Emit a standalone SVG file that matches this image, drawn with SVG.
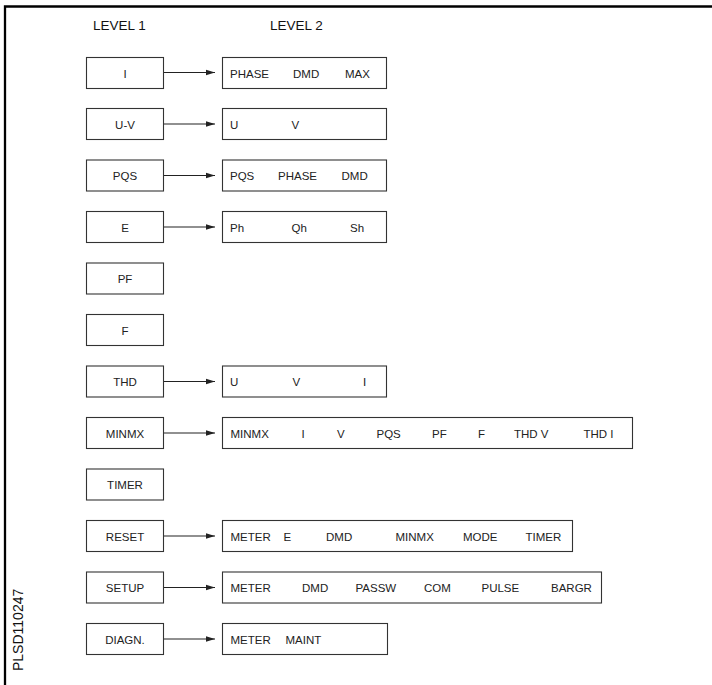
<svg xmlns="http://www.w3.org/2000/svg" width="712" height="685" viewBox="0 0 712 685">
<defs>
<marker id="ah" markerWidth="10" markerHeight="8" refX="9" refY="4" orient="auto" markerUnits="userSpaceOnUse">
<path d="M0,1.2 L9,4 L0,6.8 Z" fill="#222"/>
</marker>
<style>
.b{fill:#fff;stroke:#333;stroke-width:1.1}
.t{font-family:"Liberation Sans",Arial,sans-serif;font-size:11.5px;fill:#222}
.c{text-anchor:middle}
.h{font-family:"Liberation Sans",Arial,sans-serif;font-size:13.5px;fill:#111}
.a{stroke:#222;stroke-width:1.1;fill:none;marker-end:url(#ah)}
</style>
</defs>
<rect width="712" height="685" fill="#fff"/>
<path d="M5,685 V6.5 H712" fill="none" stroke="#000" stroke-width="2.3"/>
<text class="h" x="93" y="30">LEVEL 1</text>
<text class="h" x="270" y="30">LEVEL 2</text>
<text class="h" style="font-size:14px" transform="translate(22.5,671) rotate(-90)">PLSD110247</text>

<g id="connectors">
<line class="a" x1="163.5" y1="72.5" x2="215" y2="72.5"/>
<line class="a" x1="163.5" y1="124" x2="215" y2="124"/>
<line class="a" x1="163.5" y1="175.5" x2="215" y2="175.5"/>
<line class="a" x1="163.5" y1="227" x2="215" y2="227"/>
<line class="a" x1="163.5" y1="381.5" x2="215" y2="381.5"/>
<line class="a" x1="163.5" y1="433" x2="215" y2="433"/>
<line class="a" x1="163.5" y1="536" x2="215" y2="536"/>
<line class="a" x1="163.5" y1="587.5" x2="215" y2="587.5"/>
<line class="a" x1="163.5" y1="639" x2="215" y2="639"/>
</g>

<g id="n-I"><rect class="b" x="86.5" y="57.5" width="77" height="31"/><text class="t c" x="125" y="77.5">I</text></g>
<g id="n-I-2"><rect class="b" x="222.5" y="57.5" width="164" height="31"/><text class="t" x="230" y="77.5">PHASE</text><text class="t" x="293" y="77.5">DMD</text><text class="t" x="345" y="77.5">MAX</text></g>

<g id="n-UV"><rect class="b" x="86.5" y="108.5" width="77" height="31"/><text class="t c" x="125" y="128.5">U-V</text></g>
<g id="n-UV-2"><rect class="b" x="222.5" y="108.5" width="164" height="31"/><text class="t" x="230" y="128.5">U</text><text class="t" x="291.5" y="128.5">V</text></g>

<g id="n-PQS"><rect class="b" x="86.5" y="160" width="77" height="31"/><text class="t c" x="125" y="180">PQS</text></g>
<g id="n-PQS-2"><rect class="b" x="222.5" y="160" width="164" height="31"/><text class="t" x="230" y="180">PQS</text><text class="t" x="278" y="180">PHASE</text><text class="t" x="341.5" y="180">DMD</text></g>

<g id="n-E"><rect class="b" x="86.5" y="211.5" width="77" height="31"/><text class="t c" x="125" y="231.5">E</text></g>
<g id="n-E-2"><rect class="b" x="222.5" y="211.5" width="164" height="31"/><text class="t" x="230" y="231.5">Ph</text><text class="t" x="291.5" y="231.5">Qh</text><text class="t" x="350" y="231.5">Sh</text></g>

<g id="n-PF"><rect class="b" x="86.5" y="263" width="77" height="31"/><text class="t c" x="125" y="283">PF</text></g>

<g id="n-F"><rect class="b" x="86.5" y="314.5" width="77" height="31"/><text class="t c" x="125" y="334.5">F</text></g>

<g id="n-THD"><rect class="b" x="86.5" y="366" width="77" height="31"/><text class="t c" x="125" y="386">THD</text></g>
<g id="n-THD-2"><rect class="b" x="222.5" y="366" width="164" height="31"/><text class="t" x="230" y="386">U</text><text class="t" x="292.5" y="386">V</text><text class="t" x="363" y="386">I</text></g>

<g id="n-MINMX"><rect class="b" x="86.5" y="417.5" width="77" height="31"/><text class="t c" x="125" y="437.5">MINMX</text></g>
<g id="n-MINMX-2"><rect class="b" x="222.5" y="417.5" width="410" height="31"/><text class="t" x="230.5" y="437.5">MINMX</text><text class="t" x="301.5" y="437.5">I</text><text class="t" x="337" y="437.5">V</text><text class="t" x="376.5" y="437.5">PQS</text><text class="t" x="432" y="437.5">PF</text><text class="t" x="478" y="437.5">F</text><text class="t" x="514" y="437.5">THD V</text><text class="t" x="583.5" y="437.5">THD I</text></g>

<g id="n-TIMER"><rect class="b" x="86.5" y="469" width="77" height="31"/><text class="t c" x="125" y="489">TIMER</text></g>

<g id="n-RESET"><rect class="b" x="86.5" y="520.5" width="77" height="31"/><text class="t c" x="125" y="540.5">RESET</text></g>
<g id="n-RESET-2"><rect class="b" x="222.5" y="520.5" width="350" height="31"/><text class="t" x="230.5" y="540.5">METER</text><text class="t" x="283.5" y="540.5">E</text><text class="t" x="326" y="540.5">DMD</text><text class="t" x="395.5" y="540.5">MINMX</text><text class="t" x="463" y="540.5">MODE</text><text class="t" x="525.5" y="540.5">TIMER</text></g>

<g id="n-SETUP"><rect class="b" x="86.5" y="572" width="77" height="31"/><text class="t c" x="125" y="592">SETUP</text></g>
<g id="n-SETUP-2"><rect class="b" x="222.5" y="572" width="379" height="31"/><text class="t" x="230.5" y="592">METER</text><text class="t" x="302" y="592">DMD</text><text class="t" x="355.5" y="592">PASSW</text><text class="t" x="424" y="592">COM</text><text class="t" x="481.5" y="592">PULSE</text><text class="t" x="551" y="592">BARGR</text></g>

<g id="n-DIAGN"><rect class="b" x="86.5" y="623.5" width="77" height="31"/><text class="t c" x="125" y="643.5">DIAGN.</text></g>
<g id="n-DIAGN-2"><rect class="b" x="222.5" y="623.5" width="165" height="31"/><text class="t" x="230.5" y="643.5">METER</text><text class="t" x="285.5" y="643.5">MAINT</text></g>
</svg>
